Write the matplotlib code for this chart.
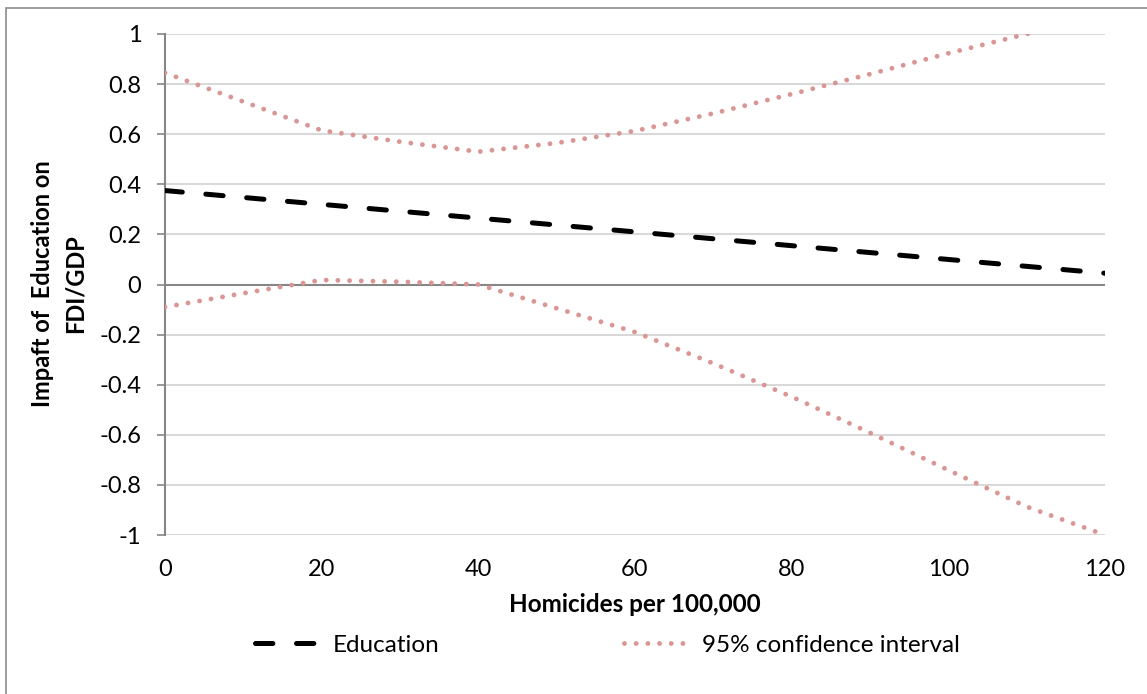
import matplotlib
matplotlib.use("Agg")
import matplotlib.pyplot as plt
from matplotlib.lines import Line2D
from matplotlib.patches import Rectangle
from matplotlib.ticker import FuncFormatter

plt.rcParams['font.family'] = ['Lato', 'DejaVu Sans']
plt.rcParams['axes.unicode_minus'] = False
plt.rcParams['lines.scale_dashes'] = False

# Data
homicides = [0, 10, 20, 30, 40, 50, 60, 70, 80, 90, 100, 110, 120]
education = [0.375, 0.3475, 0.32, 0.2925, 0.265, 0.2375, 0.21, 0.1825, 0.155, 0.1275, 0.10, 0.0725, 0.045]
ci_upper = [0.845, 0.73, 0.615, 0.57, 0.53, 0.565, 0.613, 0.683, 0.76, 0.84, 0.923, 1.0, 1.08]
ci_lower = [-0.09, -0.035, 0.018, 0.011, 0.0, -0.095, -0.19, -0.315, -0.448, -0.592, -0.741, -0.887, -1.0]
x_ticks = [0, 20, 40, 60, 80, 100, 120]
y_ticks = [-1, -0.8, -0.6, -0.4, -0.2, 0, 0.2, 0.4, 0.6, 0.8, 1]

W, H = 1147, 694
fig = plt.figure(figsize=(W / 100, H / 100), dpi=100)
fig.patch.set_facecolor('white')

# outer chart border
fig.patches.append(Rectangle((6 / W, -0.1), 1.2, 1 - 8 / H + 0.1, transform=fig.transFigure,
                             fill=False, edgecolor='#8c8c8c', linewidth=1.2, figure=fig))

ax = fig.add_axes([165 / W, 1 - 535 / H, (1105 - 165) / W, (535 - 34) / H])
ax.set_xlim(0, 120)
ax.set_ylim(-1, 1)

grid_c = '#d9d9d9'
for yv in y_ticks:
    if yv != 0:
        ax.axhline(yv, color=grid_c, lw=1.5, zorder=1)
ax.axhline(0, color='#868686', lw=1.5, zorder=2)

pink = '#d99694'
ci_dashes = (0.01, 8.4)
edu_dashes = (12.5, 17.0)
ax.plot(homicides, ci_upper, color=pink, lw=3.5, dashes=ci_dashes,
        dash_capstyle='round', zorder=3)
ax.plot(homicides, ci_lower, color=pink, lw=3.5, dashes=ci_dashes,
        dash_capstyle='round', zorder=3)
ax.plot(homicides, education, color='black', lw=3.6, dashes=edu_dashes,
        dash_capstyle='round', zorder=4)

for s in ['top', 'right', 'bottom']:
    ax.spines[s].set_visible(False)
ax.spines['left'].set_color('#868686')
ax.spines['left'].set_linewidth(1.5)

ax.set_xticks(x_ticks)
ax.set_yticks(y_ticks)
ax.yaxis.set_major_formatter(FuncFormatter(lambda v, p: ('%g' % round(v, 1))))
ax.tick_params(axis='y', direction='out', length=6, width=1.2, color='#868686',
               labelsize=17, pad=11)
ax.tick_params(axis='x', length=0, labelsize=17, pad=17)

ax.set_xlabel('Homicides per 100,000', fontsize=17.5, fontweight='bold', labelpad=10)
fig.text(59 / W, 1 - 284 / H, 'Impaft of  Education on\nFDI/GDP', rotation=90,
         ha='center', va='center', fontsize=17, fontweight='bold', linespacing=1.5)

leg_edu = Line2D([], [], color='black', lw=3.6, dashes=edu_dashes, dash_capstyle='round')
leg_ci = Line2D([], [], color=pink, lw=3.5, dashes=ci_dashes, dash_capstyle='round')
fig.legend([leg_edu, leg_ci], ['Education', '95% confidence interval'], ncol=2,
           loc='center', bbox_to_anchor=(607 / W, 1 - 645 / H), frameon=False,
           fontsize=17.5, handlelength=2.6, handletextpad=0.6, columnspacing=7.6)

fig.savefig('out.png', dpi=100, facecolor='white')
